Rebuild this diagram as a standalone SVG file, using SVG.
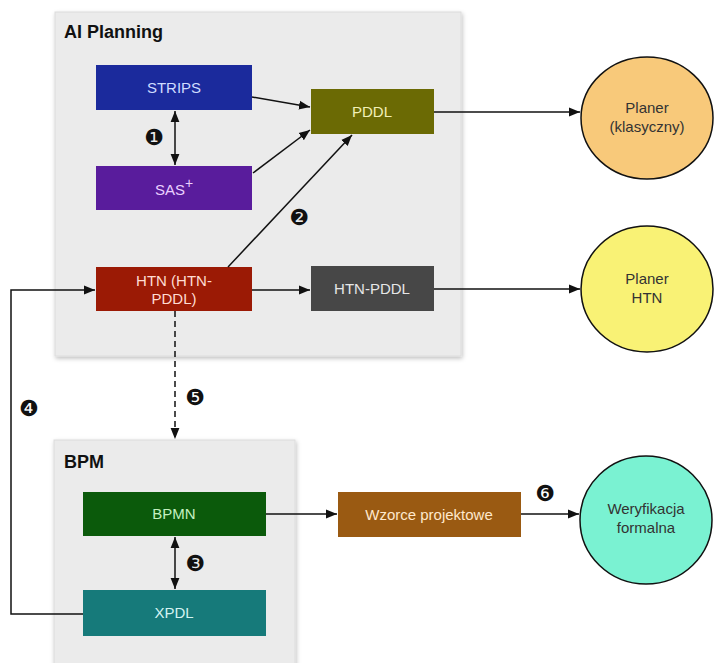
<svg xmlns="http://www.w3.org/2000/svg" width="716" height="663" viewBox="0 0 716 663">
<style>
.cont{fill:#ebebeb;stroke:#dcdcdc;stroke-width:1}
.title{font-family:"Liberation Sans",Arial,sans-serif;font-weight:bold;font-size:18px;fill:#111}
.lbl{font-family:"Liberation Sans",Arial,sans-serif;font-size:15px;text-anchor:middle}
.clbl{font-family:"Liberation Sans",Arial,sans-serif;font-size:15px;text-anchor:middle;fill:#333}
.num{font-family:"DejaVu Sans",sans-serif;font-size:22px;text-anchor:middle;fill:#111}
.conn{fill:none;stroke:#111;stroke-width:1.5}
.circ{stroke:#111;stroke-width:1.5}
</style>
<defs>
<marker id="ah" viewBox="0 0 10 10" refX="10" refY="5" markerWidth="11" markerHeight="11" markerUnits="userSpaceOnUse" orient="auto-start-reverse">
<path d="M0,1 L10,5 L0,9 z" fill="#111"/>
</marker>
<filter id="sh" x="-5%" y="-5%" width="115%" height="115%">
<feDropShadow dx="1" dy="2" stdDeviation="2" flood-color="#000" flood-opacity="0.25"/>
</filter>
</defs>
<rect width="716" height="663" fill="#fff"/>

<g id="ai-planning">
<rect class="cont" x="55" y="12" width="406" height="344" filter="url(#sh)"/>
<text class="title" x="64" y="38">AI Planning</text>
</g>
<g id="bpm">
<rect class="cont" x="54" y="440" width="241" height="225" filter="url(#sh)"/>
<text class="title" x="64" y="468">BPM</text>
</g>

<g id="strips"><rect x="96" y="65" width="156" height="45" fill="#1b2a9c"/><text class="lbl" x="174" y="93" fill="#cfdcff">STRIPS</text></g>
<g id="sas"><rect x="96" y="166" width="156" height="44" fill="#591c9c"/><text class="lbl" x="174" y="195" fill="#ead0ff">SAS<tspan dy="-7" font-size="14">+</tspan></text></g>
<g id="pddl"><rect x="311" y="89" width="123" height="45" fill="#6b6a04"/><text class="lbl" x="372" y="117" fill="#f2f0b8">PDDL</text></g>
<g id="htn"><rect x="96" y="267" width="156" height="44" fill="#9b1a05"/><text class="lbl" x="174" y="286" fill="#ffdcd2">HTN (HTN-</text><text class="lbl" x="174" y="304" fill="#ffdcd2">PDDL)</text></g>
<g id="htn-pddl"><rect x="311" y="266" width="123" height="45" fill="#474747"/><text class="lbl" x="372" y="294" fill="#e6e6e6">HTN-PDDL</text></g>
<g id="bpmn"><rect x="83" y="492" width="183" height="44" fill="#0b5a0b"/><text class="lbl" x="174" y="519" fill="#c4f0c0">BPMN</text></g>
<g id="xpdl"><rect x="83" y="590" width="183" height="46" fill="#167a7a"/><text class="lbl" x="174" y="618" fill="#d4f4f2">XPDL</text></g>
<g id="wzorce"><rect x="338" y="492" width="183" height="45" fill="#9a5a12"/><text class="lbl" x="429" y="520" fill="#ffe8cc">Wzorce projektowe</text></g>
<g id="planer-klasyczny"><ellipse class="circ" cx="647" cy="118" rx="66" ry="61" fill="#f8c97a"/><text class="clbl" x="647" y="113">Planer</text><text class="clbl" x="647" y="132">(klasyczny)</text></g>
<g id="planer-htn"><ellipse class="circ" cx="647" cy="289" rx="66" ry="63" fill="#f9f275"/><text class="clbl" x="647" y="284">Planer</text><text class="clbl" x="647" y="303">HTN</text></g>
<g id="weryfikacja"><ellipse class="circ" cx="646" cy="520" rx="66" ry="64" fill="#7af2d2"/><text class="clbl" x="646" y="514">Weryfikacja</text><text class="clbl" x="646" y="533">formalna</text></g>

<g id="connectors">
<line class="conn" x1="252" y1="97" x2="310" y2="107" marker-end="url(#ah)"/>
<line class="conn" x1="253" y1="173" x2="310" y2="130" marker-end="url(#ah)"/>
<line class="conn" x1="228" y1="267" x2="352" y2="135" marker-end="url(#ah)"/>
<line class="conn" x1="175" y1="111" x2="175" y2="165" marker-start="url(#ah)" marker-end="url(#ah)"/>
<line class="conn" x1="252" y1="290" x2="310" y2="290" marker-end="url(#ah)"/>
<line class="conn" x1="434" y1="112" x2="580" y2="112" marker-end="url(#ah)"/>
<line class="conn" x1="434" y1="289" x2="580" y2="289" marker-end="url(#ah)"/>
<polyline class="conn" points="83,614 11,614 11,290 95,290" marker-end="url(#ah)"/>
<line class="conn" x1="175" y1="311" x2="175" y2="439" stroke-dasharray="6,4" marker-end="url(#ah)"/>
<line class="conn" x1="175" y1="537" x2="175" y2="589" marker-start="url(#ah)" marker-end="url(#ah)"/>
<line class="conn" x1="266" y1="514" x2="337" y2="514" marker-end="url(#ah)"/>
<line class="conn" x1="521" y1="514" x2="579" y2="514" marker-end="url(#ah)"/>
<text class="num" x="154" y="145">❶</text>
<text class="num" x="299" y="225">❷</text>
<text class="num" x="195" y="571">❸</text>
<text class="num" x="29" y="416">❹</text>
<text class="num" x="195" y="405">❺</text>
<text class="num" x="545" y="501">❻</text>
</g>
</svg>
